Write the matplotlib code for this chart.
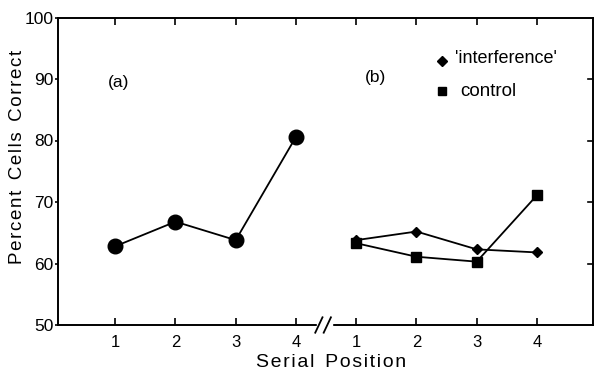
import matplotlib
matplotlib.use("Agg")
import matplotlib.pyplot as plt
import matplotlib.transforms as mtransforms

# Data
positions_a = [1, 2, 3, 4]
values_a = [62.8, 66.8, 63.8, 80.6]
positions_b = [5, 6, 7, 8]
interference = [63.8, 65.2, 62.3, 61.8]
control = [63.3, 61.1, 60.3, 71.1]
tick_labels = ["1", "2", "3", "4", "1", "2", "3", "4"]
yticks = [50, 60, 70, 80, 90, 100]

plt.rcParams['font.family'] = ['Liberation Sans', 'DejaVu Sans']

HS = "\u200a"
def spaced(s):
    return HS.join(list(s))

fig = plt.figure(figsize=(5.94, 3.74), dpi=100)
ax = fig.add_axes([58/594, 1-325/374, (593-58)/594, (325-17.5)/374])

ax.plot(positions_a, values_a, '-', color='black', lw=1.3, marker='o', ms=10.5, mfc='black', mec='black')
ax.plot(positions_b, interference, '-', color='black', lw=1.3, marker='D', ms=5.5, mfc='black', mec='black')
ax.plot(positions_b, control, '-', color='black', lw=1.3, marker='s', ms=6.5, mfc='black', mec='black')

ax.set_xlim(0.05, 8.93)
ax.set_ylim(50, 100)
ax.set_xticks(positions_a + positions_b)
ax.set_xticklabels(tick_labels)
ax.set_yticks(yticks)
ax.tick_params(axis='x', direction='in', top=True, length=5, width=1.2, pad=7, labelsize=12)
ax.tick_params(axis='y', direction='out', left=True, length=2, width=1.2, pad=1, labelsize=12.5)
for s in ax.spines.values():
    s.set_linewidth(1.4)

# right-side inward ticks
for yv in [60, 70, 80, 90]:
    ax.plot([8.93, 8.85], [yv, yv], color='black', lw=1.2, clip_on=False)

# axis break
trans = mtransforms.blended_transform_factory(ax.transData, ax.transAxes)
ax.add_patch(plt.Rectangle((4.35, -0.02), 0.25, 0.04, transform=trans, color='white', clip_on=False, zorder=5))
for xb in [4.38, 4.52]:
    ax.plot([xb - 0.06, xb + 0.06], [-0.025, 0.025], transform=trans, color='black', lw=1.3, clip_on=False, zorder=6)

ax.set_ylabel(spaced("Percent") + "  " + spaced("Cells") + "  " + spaced("Correct"), fontsize=13.5)
ax.yaxis.set_label_coords(-0.06, 0.545)
ax.set_xlabel(spaced("Serial") + "  " + spaced("Position"), fontsize=14)
ax.xaxis.set_label_coords(0.51, -0.093)

ax.text(0.87, 89.5, "(a)", fontsize=12.5, va='center')
ax.text(5.15, 90.2, "(b)", fontsize=12.5, va='center')

ax.plot([6.43], [92.9], marker='D', ms=5, color='black', ls='none')
ax.text(6.64, 93.3, "'interference'", fontsize=13, va='center')
ax.plot([6.43], [88.0], marker='s', ms=6, color='black', ls='none')
ax.text(6.73, 88.0, "control", fontsize=13.5, va='center')

fig.savefig("out.png", dpi=100)
